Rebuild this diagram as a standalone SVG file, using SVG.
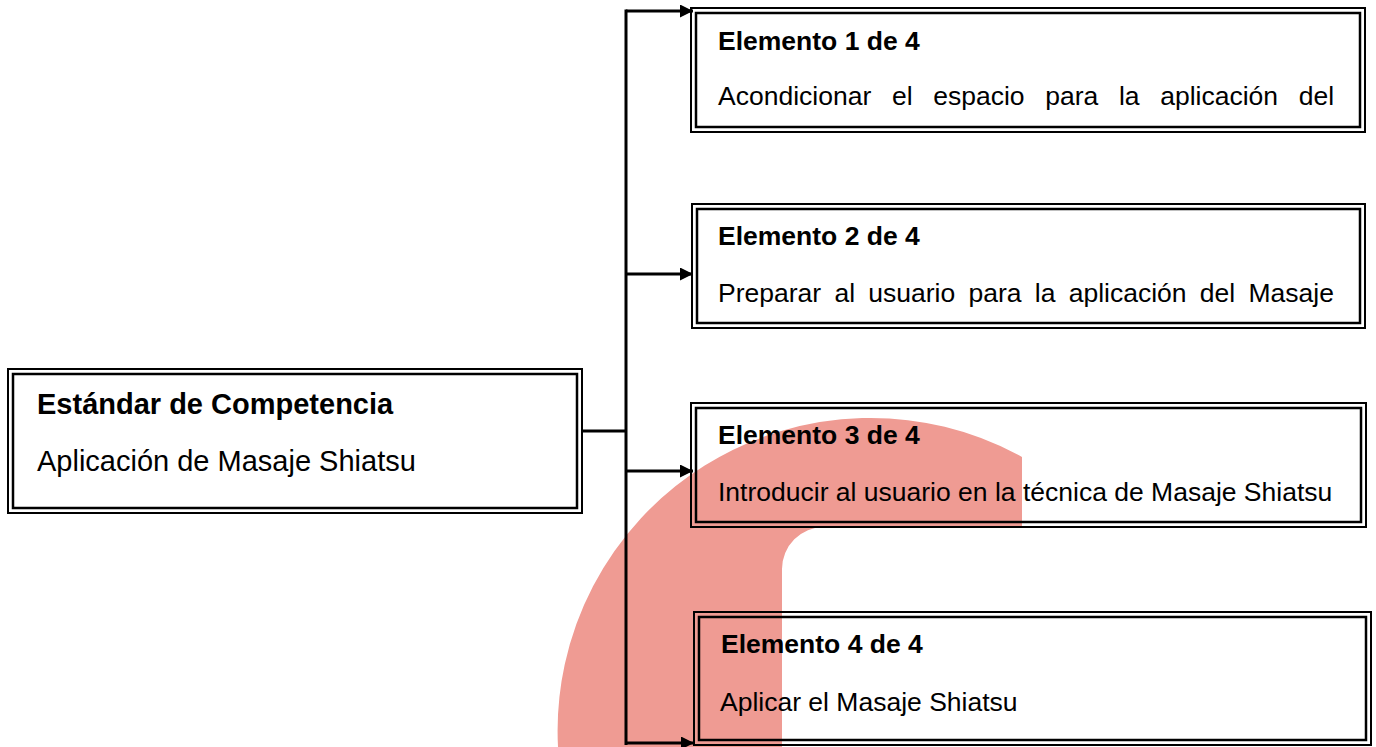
<svg xmlns="http://www.w3.org/2000/svg" width="1376" height="747" viewBox="0 0 1376 747">
<style>
.o{fill:none;stroke:#000;stroke-width:2}
.i{fill:none;stroke:#000;stroke-width:2.5}
.t{font-family:"Liberation Sans",Arial,sans-serif;font-size:26.5px;fill:#000}
.b{font-weight:bold}
.m{font-size:29px}
.c{fill:none;stroke:#000;stroke-width:3}
</style>
<defs>
<marker id="ah" markerWidth="14" markerHeight="14" refX="13" refY="6.5" orient="auto" markerUnits="userSpaceOnUse">
<path d="M0,0 L13,6.5 L0,13 Z" fill="#000"/>
</marker>
</defs>
<rect width="1376" height="747" fill="#fff"/>
<path d="M558 747 A313 313 0 0 1 1022 457 L1022 527 L824 527 A42 42 0 0 0 782 569 L782 747 Z" fill="#ef9b93"/>
<g id="connectors">
<line class="c" x1="626" y1="9.5" x2="626" y2="745"/>
<line class="c" x1="582" y1="431" x2="626" y2="431"/>
<line class="c" x1="626" y1="11" x2="693" y2="11" marker-end="url(#ah)"/>
<line class="c" x1="626" y1="274" x2="693" y2="274" marker-end="url(#ah)"/>
<line class="c" x1="626" y1="471" x2="693" y2="471" marker-end="url(#ah)"/>
<line class="c" x1="626" y1="743" x2="694" y2="743" marker-end="url(#ah)"/>
</g>
<g id="main">
<rect class="o" x="8" y="369" width="574" height="144"/>
<rect class="i" x="13" y="374" width="564" height="134"/>
<text class="t b m" x="37" y="414">Estándar de Competencia</text>
<text class="t m" x="37" y="471">Aplicación de Masaje Shiatsu</text>
</g>
<g id="el1">
<rect class="o" x="691" y="8" width="674" height="124"/>
<rect class="i" x="696" y="13" width="664" height="114"/>
<text class="t b" x="718" y="50">Elemento 1 de 4</text>
<text class="t" y="105"><tspan x="718">Acondicionar</tspan><tspan x="891.9">el</tspan><tspan x="933.2">espacio</tspan><tspan x="1045.2">para</tspan><tspan x="1118.9">la</tspan><tspan x="1160.2">aplicación</tspan><tspan x="1298.7">del</tspan></text>
</g>
<g id="el2">
<rect class="o" x="692" y="204" width="673" height="124"/>
<rect class="i" x="697" y="209" width="663" height="114"/>
<text class="t b" x="718" y="245">Elemento 2 de 4</text>
<text class="t" y="302"><tspan x="718">Preparar</tspan><tspan x="834.4">al</tspan><tspan x="868.3">usuario</tspan><tspan x="968.5">para</tspan><tspan x="1034.8">la</tspan><tspan x="1068.7">aplicación</tspan><tspan x="1199.8">del</tspan><tspan x="1248.5">Masaje</tspan></text>
</g>
<g id="el3">
<rect class="o" x="691" y="403" width="675" height="124"/>
<rect class="i" x="696" y="408" width="665" height="114"/>
<text class="t b" x="718" y="444">Elemento 3 de 4</text>
<text class="t" x="718" y="501">Introducir al usuario en la técnica de Masaje Shiatsu</text>
</g>
<g id="el4">
<rect class="o" x="694" y="612" width="677" height="133"/>
<rect class="i" x="699" y="617" width="667" height="123"/>
<text class="t b" x="721" y="653">Elemento 4 de 4</text>
<text class="t" x="720" y="711">Aplicar el Masaje Shiatsu</text>
</g>
</svg>
